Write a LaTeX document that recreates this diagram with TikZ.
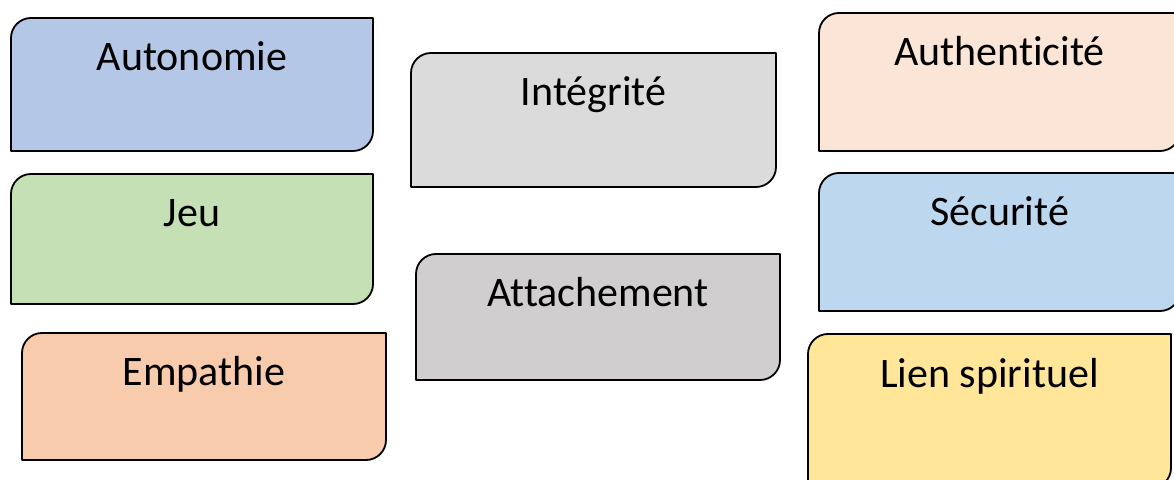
\documentclass[tikz,border=0pt]{standalone}
\usepackage{fontspec}
\setmainfont{Carlito}[RawFeature={-liga}]
\definecolor{cAuto}{HTML}{B4C7E7}
\definecolor{cJeu}{HTML}{C5E0B4}
\definecolor{cEmp}{HTML}{F8CBAD}
\definecolor{cInt}{HTML}{DBDBDB}
\definecolor{cAtt}{HTML}{D0CECE}
\definecolor{cAuth}{HTML}{FBE5D6}
\definecolor{cSec}{HTML}{BDD7EE}
\definecolor{cLien}{HTML}{FFE699}
\tikzset{
  frame/.style={draw=none, fill=none, inner sep=0pt, outer sep=0pt, rectangle},
  boxline/.style={draw=black, line width=1.8pt, line join=round},
  lbl/.style={inner sep=0pt, anchor=base, font=\fontsize{42}{50}\selectfont, text=black}
}
% \valbox{name}{L}{T}{R}{B}{colour}{text}  (pixel coordinates, y downward)
\newcommand{\valbox}[7]{%
  \pgfmathsetmacro{\bw}{#4-#2}%
  \pgfmathsetmacro{\bh}{#5-#3}%
  \pgfmathsetmacro{\cx}{(#2+#4)/2}%
  \pgfmathsetmacro{\cy}{479-(#3+#5)/2}%
  \node[frame, minimum width=\bw pt, minimum height=\bh pt] (#1) at (\cx,\cy) {};
  \draw[boxline, fill=#6] (#1.south west) -- ([yshift=-20pt]#1.north west)
     arc[start angle=180, end angle=90, radius=20pt] -- (#1.north east)
     -- ([yshift=20pt]#1.south east)
     arc[start angle=0, end angle=-90, radius=20pt] -- cycle;
  \node[lbl] (#1-t) at ([yshift=-53pt]#1.north) {#7};
}
\begin{document}
\begin{tikzpicture}[x=1pt,y=1pt]
\useasboundingbox (0,0) rectangle (1174,479);
\valbox{auto}{11}{18}{373}{151}{cAuto}{Autonomie}
\valbox{jeu}{11}{174}{373}{304}{cJeu}{Jeu}
\valbox{emp}{22}{333}{386}{460}{cEmp}{Empathie}
\valbox{int}{411}{53}{776}{187}{cInt}{Intégrité}
\valbox{att}{416}{254}{780}{380}{cAtt}{Attachement}
\valbox{auth}{819}{13}{1180}{151}{cAuth}{Authenticité}
\valbox{sec}{819}{173}{1180}{311}{cSec}{Sécurité}
\valbox{lien}{808}{334}{1171}{488}{cLien}{Lien spirituel}
\end{tikzpicture}
\end{document}
